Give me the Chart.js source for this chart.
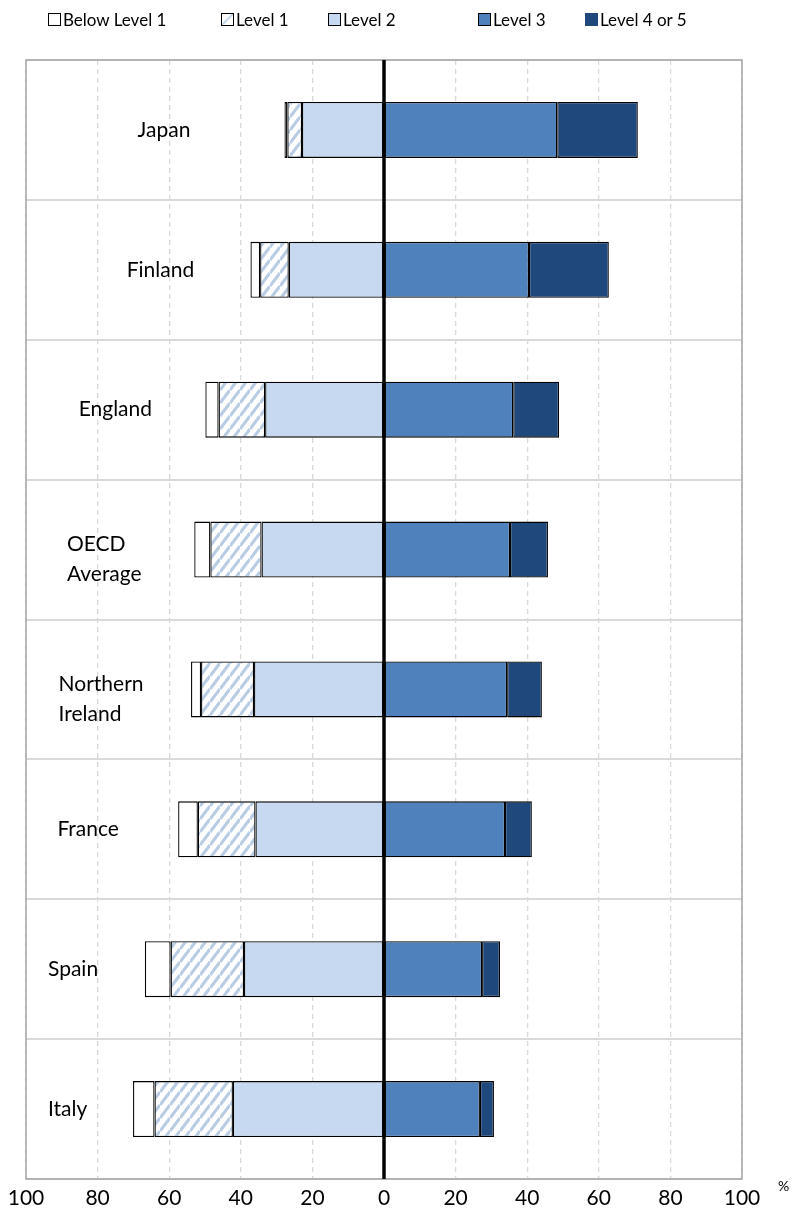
<!DOCTYPE html>
<html>
<head>
<meta charset="utf-8">
<script src="https://cdn.jsdelivr.net/npm/chart.js@4.4.1/dist/chart.umd.min.js"></script>
<style>
  html, body { margin: 0; padding: 0; background: #fff; }
  #wrap { position: relative; width: 792px; height: 1219px; }
  #legend { position: absolute; top: 0; left: 0; width: 792px; height: 40px; font-family: Lato, 'Open Sans', sans-serif; font-size: 17px; color: #000; }
  .li { position: absolute; top: 9px; display: flex; align-items: center; white-space: nowrap; }
  .sw { width: 13px; height: 13px; border: 1px solid #000; margin-right: 2px; box-sizing: border-box; }
</style>
</head>
<body>
<div id="wrap">
  <div id="legend"></div>
  <canvas id="chart" width="792" height="1219"></canvas>
</div>
<script>
// ── Data (percent of adults at each proficiency level) ──
const categories = ['Japan', 'Finland', 'England', ['OECD', 'Average'], ['Northern', 'Ireland'], 'France', 'Spain', 'Italy'];
const belowLevel1 = [0.8, 2.7, 3.7, 4.5, 2.8, 5.5, 7.2, 6.0];
const level1 = [4.1, 8.0, 13.0, 14.3, 14.8, 16.1, 20.5, 21.9];
const level2 = [22.9, 26.6, 33.2, 34.2, 36.3, 35.9, 39.1, 42.2];
const level3 = [48.4, 40.5, 36.1, 35.2, 34.4, 33.8, 27.4, 26.8];
const level4or5 = [22.5, 22.3, 12.8, 10.6, 9.7, 7.5, 5.0, 3.9];
const xTicks = [-100, -80, -60, -40, -20, 0, 20, 40, 60, 80, 100];

const FONT = "Lato, 'Open Sans', sans-serif";
const C_L2 = '#c6d9f0', C_L3 = '#4f81bd', C_L45 = '#1f497d', HATCH = '#b8cce4';

// ── Hatch pattern for Level 1 ──
function hatchPattern() {
  const w = 10, h = 13;
  const c = document.createElement('canvas');
  c.width = w; c.height = h;
  const g = c.getContext('2d');
  g.fillStyle = '#fff';
  g.fillRect(0, 0, w, h);
  g.strokeStyle = HATCH;
  g.lineWidth = 3.2;
  for (let k = 0; k <= 2; k++) {
    g.beginPath();
    g.moveTo(0, k * h);
    g.lineTo(w, (k - 1) * h);
    g.stroke();
  }
  return document.getElementById('chart').getContext('2d').createPattern(c, 'repeat');
}
const pat = hatchPattern();

// ── Legend (html) ──
const legendItems = [
  { text: 'Below Level 1', bg: '#fff', left: 48 },
  { text: 'Level 1', bg: 'linear-gradient(135deg, #fff 40%, ' + HATCH + ' 50%, #fff 60%)', left: 221 },
  { text: 'Level 2', bg: C_L2, left: 328 },
  { text: 'Level 3', bg: C_L3, left: 478 },
  { text: 'Level 4 or 5', bg: C_L45, left: 585, noBorder: true },
];
document.getElementById('legend').innerHTML = legendItems.map(it =>
  `<div class="li" style="left:${it.left}px"><div class="sw" style="background:${it.bg};${it.noBorder ? 'border-color:' + C_L45 : ''}"></div>${it.text}</div>`
).join('');

// ── Overlay: frame, zero line, category labels, % ──
const overlay = {
  id: 'overlay',
  afterDatasetsDraw(chart) {
    const { ctx, chartArea: a, scales: { x, y } } = chart;
    ctx.save();
    // frame
    ctx.strokeStyle = '#a6a6a6';
    ctx.lineWidth = 1.5;
    ctx.strokeRect(a.left, a.top, a.right - a.left, a.bottom - a.top);
    // zero line
    const x0 = x.getPixelForValue(0);
    ctx.strokeStyle = '#000';
    ctx.lineWidth = 3.5;
    ctx.beginPath();
    ctx.moveTo(x0, a.top);
    ctx.lineTo(x0, a.bottom);
    ctx.stroke();
    // category labels, to the left of each bar
    ctx.fillStyle = '#000';
    ctx.font = '21px ' + FONT;
    ctx.textAlign = 'left';
    ctx.textBaseline = 'middle';
    categories.forEach((cat, i) => {
      const lines = Array.isArray(cat) ? cat : [cat];
      const total = belowLevel1[i] + level1[i] + level2[i];
      const barLeft = x.getPixelForValue(-total);
      const w = Math.max(...lines.map(l => ctx.measureText(l).width));
      const cx = Math.min(Math.max(barLeft - 90, a.left + 22 + w / 2), a.left + 138);
      const cy = y.getPixelForValue(i) + (lines.length > 1 ? 10 : 0);
      const lh = 30;
      lines.forEach((l, j) => {
        ctx.fillText(l, cx - w / 2, cy + (j - (lines.length - 1) / 2) * lh);
      });
    });
    // unit
    ctx.font = '14px ' + FONT;
    ctx.fillText('%', a.right + 36, a.bottom + 7);
    ctx.restore();
  }
};

new Chart(document.getElementById('chart'), {
  type: 'bar',
  data: {
    labels: categories,
    datasets: [
      { label: 'Level 2', data: level2.map(v => -v), backgroundColor: C_L2 },
      { label: 'Level 1', data: level1.map(v => -v), backgroundColor: pat },
      { label: 'Below Level 1', data: belowLevel1.map(v => -v), backgroundColor: '#fff' },
      { label: 'Level 3', data: level3, backgroundColor: C_L3 },
      { label: 'Level 4 or 5', data: level4or5, backgroundColor: C_L45 },
    ].map(d => ({ ...d, borderColor: '#000', borderWidth: 1.3, borderSkipped: false, categoryPercentage: 1, barPercentage: 0.4 })),
  },
  options: {
    indexAxis: 'y',
    responsive: false,
    animation: false,
    layout: { padding: { top: 60, left: 26, right: 50, bottom: 0 } },
    plugins: { legend: { display: false }, tooltip: { enabled: false } },
    scales: {
      x: {
        stacked: true, min: -100, max: 100,
        afterBuildTicks: s => { s.ticks = xTicks.map(v => ({ value: v })); },
        afterFit: s => { s.height = 40; s.paddingLeft = 0; s.paddingRight = 0; },
        ticks: { color: '#000', font: { family: FONT, size: 21 }, padding: 7, maxRotation: 0, callback: v => String(Math.abs(v)) },
        grid: { color: '#d9d9d9', lineWidth: 1.3, drawTicks: false },
        border: { display: false, dash: [5, 4] },
      },
      y: {
        stacked: true,
        ticks: { display: false },
        grid: { color: '#d9d9d9', lineWidth: 2, drawTicks: false },
        border: { display: false },
      },
    },
  },
  plugins: [overlay],
});
</script>
</body>
</html>
